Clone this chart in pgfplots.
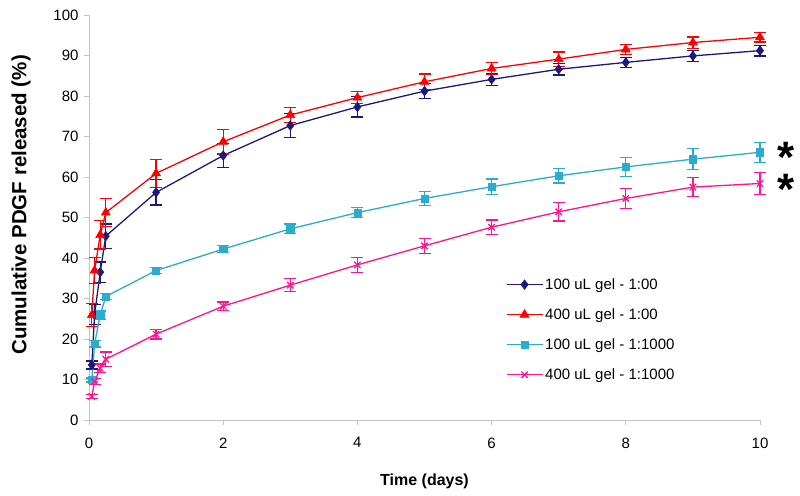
\documentclass[border=0pt]{standalone}
\usepackage{pgfplots}
\pgfplotsset{compat=1.18}
\usepackage{pgfplotstable}
\usepackage{fontspec}
\setmainfont{Liberation Sans}
\definecolor{cnavy}{RGB}{28,24,128}
\definecolor{cred}{RGB}{255,0,0}
\definecolor{ccyan}{RGB}{42,172,208}
\definecolor{cpink}{RGB}{255,20,140}
\definecolor{caxis}{RGB}{195,195,195}

\pgfplotstableread{
x y e
0.042 13.6 1.0
0.083 26.0 2.5
0.167 36.5 2.5
0.25 45.4 3.0
1 56.2 3.1
2 65.3 2.9
3 72.7 3.0
4 77.3 2.5
5 81.2 1.9
6 84.1 1.5
7 86.6 1.4
8 88.3 1.2
9 89.9 1.3
10 91.2 1.3
}\tblue
\pgfplotstableread{
x y e
0.042 25.9 2.9
0.083 36.9 3.2
0.167 45.7 3.5
0.25 51.2 3.5
1 60.9 3.5
2 68.7 3.0
3 75.3 1.9
4 79.6 1.5
5 83.5 1.9
6 86.8 1.5
7 89.1 1.8
8 91.5 1.3
9 93.2 1.4
10 94.5 1.2
}\tred
\pgfplotstableread{
x y e
0.042 9.9 0.5
0.083 18.8 0.8
0.167 25.9 1.0
0.25 30.5 0.8
1 36.9 0.8
2 42.2 0.8
3 47.2 1.2
4 51.2 1.2
5 54.7 1.7
6 57.6 1.9
7 60.3 1.8
8 62.5 2.3
9 64.4 2.6
10 66.1 2.5
}\tcyan
\pgfplotstableread{
x y e
0.042 5.8 0.5
0.083 9.5 0.8
0.167 12.8 1.0
0.25 15.0 1.8
1 21.2 1.2
2 28.1 1.0
3 33.3 1.6
4 38.3 1.8
5 43.0 1.9
6 47.6 1.8
7 51.4 2.3
8 54.7 2.5
9 57.5 2.4
10 58.4 2.7
}\tpink

\begin{document}
\begin{tikzpicture}
\begin{axis}[
  scale only axis,
  width=671pt, height=405pt,
  xmin=0, xmax=10, ymin=0, ymax=100,
  xtick={0,2,...,10}, ytick={0,10,...,100},
  axis lines*=left,
  axis line style={draw=caxis, line width=0.8pt, -},
  tick style={draw=caxis, line width=0.8pt},
  tick align=outside,
  major tick length=5pt,
  clip=false,
  /pgf/number format/assume math mode=true,
  tick label style={font=\fontsize{15}{18}\selectfont},
  xticklabel style={yshift=-9pt},
  yticklabel style={xshift=-2pt},
  xlabel={Time (days)},
  ylabel={Cumulative PDGF released (\%)},
  xlabel style={font=\fontsize{16}{19}\selectfont\bfseries, at={(axis description cs:0.5,-0.1506)}, anchor=center},
  ylabel style={font=\fontsize{20.5}{24}\selectfont\bfseries, at={(axis description cs:-0.1013,0.531)}, anchor=center},
  legend style={draw=none, fill=none, at={(axis cs:6.21,35.5)}, anchor=north west,
    font=\fontsize{15}{18}\selectfont, row sep=13.7pt, inner sep=0pt,
    /tikz/every even column/.append style={column sep=5pt}},
  legend cell align=left,
  legend image code/.code={\draw[mark repeat=2,mark phase=2,#1] plot coordinates {(0pt,0pt) (18pt,0pt) (36pt,0pt)};},
  every axis plot/.append style={line width=1.3pt},
  error bars/error bar style={line width=1.3pt},
  error bars/error mark options={rotate=90, mark size=6pt, line width=1.3pt},
]
\addplot[color=cnavy, mark=diamond*, mark size=4.8pt, mark options={fill=cnavy, line width=0.5pt},
  error bars/.cd, y dir=both, y explicit] table[x=x, y=y, y error=e] {\tblue};
\addlegendentry{100 uL gel - 1:00}
\addplot[color=cred, mark=triangle*, mark size=5.2pt, mark options={fill=cred, line width=0.5pt},
  error bars/.cd, y dir=both, y explicit] table[x=x, y=y, y error=e] {\tred};
\addlegendentry{400 uL gel - 1:00}
\addplot[color=ccyan, mark=square*, mark size=3.6pt, mark options={fill=ccyan, line width=0.5pt},
  error bars/.cd, y dir=both, y explicit] table[x=x, y=y, y error=e] {\tcyan};
\addlegendentry{100 uL gel - 1:1000}
\addplot[color=cpink, mark=x, mark size=4.5pt, mark options={line width=1.3pt},
  error bars/.cd, y dir=both, y explicit] table[x=x, y=y, y error=e] {\tpink};
\addlegendentry{400 uL gel - 1:1000}
\node[anchor=base, inner sep=0pt, font=\fontsize{44}{44}\selectfont\bfseries] at (axis cs:10.39,61.0) {\smash{*}};
\node[anchor=base, inner sep=0pt, font=\fontsize{44}{44}\selectfont\bfseries] at (axis cs:10.39,53.3) {\smash{*}};
\end{axis}
\pgfresetboundingbox
\path (-89pt,-75pt) rectangle (711pt,420pt);
\end{tikzpicture}
\end{document}
